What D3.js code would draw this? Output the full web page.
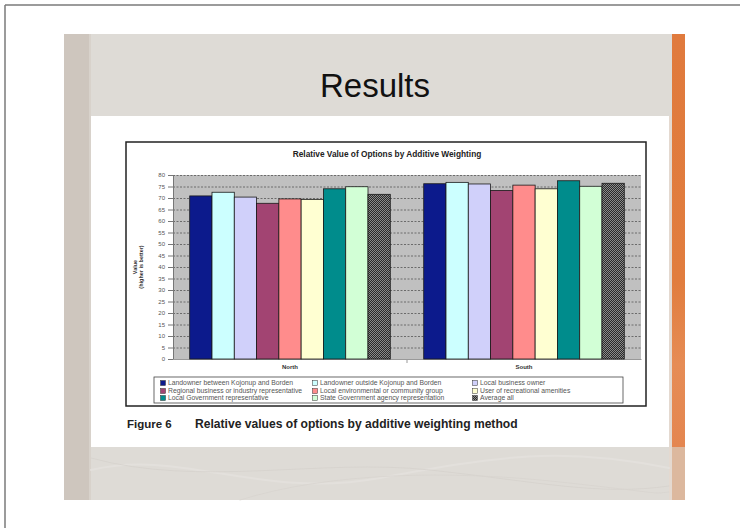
<!DOCTYPE html>
<html>
<head>
<meta charset="utf-8">
<script src="https://cdn.jsdelivr.net/npm/d3@7/dist/d3.min.js"></script>
<style>
  html, body { margin: 0; padding: 0; background: #fff; }
  svg { display: block; font-family: Arial, "Liberation Sans", sans-serif; }
</style>
</head>
<body>
<svg id="slide" width="740" height="528"></svg>
<script>
// ---- data ----
const regions = ["North", "South"];
const groups = [
  "Landowner between Kojonup and Borden",
  "Landowner outside Kojonup and Borden",
  "Local business owner",
  "Regional business or industry representative",
  "Local environmental or community group",
  "User of recreational amenities",
  "Local Government representative",
  "State Government agency representation",
  "Average all"
];
const northValues = [70.9, 72.5, 70.4, 67.7, 69.6, 69.4, 74.0, 74.9, 71.6];
const southValues = [76.2, 76.8, 76.1, 73.3, 75.6, 74.0, 77.5, 75.1, 76.4];
const yTicks = d3.range(0, 81, 5);
const fills = ["#0c1a8c", "#ccffff", "#d0d0fa", "#a24472", "#ff8c8c", "#ffffd2", "#008c8c", "#d2ffd6", "url(#checker)"];

const svg = d3.select("#slide");
const defs = svg.append("defs");

// fine dark checker used by the "Average all" series
const pat = defs.append("pattern").attr("id", "checker").attr("patternUnits", "userSpaceOnUse")
  .attr("width", 2).attr("height", 2);
pat.append("rect").attr("width", 2).attr("height", 2).attr("fill", "#8a8a8a");
pat.append("rect").attr("width", 1).attr("height", 1).attr("fill", "#2a2a2a");
pat.append("rect").attr("x", 1).attr("y", 1).attr("width", 1).attr("height", 1).attr("fill", "#2a2a2a");

const orangeGrad = defs.append("linearGradient").attr("id", "orangeStrip").attr("x1", 0).attr("x2", 0).attr("y1", 0).attr("y2", 1);
orangeGrad.append("stop").attr("offset", "0%").attr("stop-color", "#e07a3d");
orangeGrad.append("stop").attr("offset", "60%").attr("stop-color", "#e17d3e");
orangeGrad.append("stop").attr("offset", "80%").attr("stop-color", "#e68c55");
orangeGrad.append("stop").attr("offset", "100%").attr("stop-color", "#e48650");

// ---- page frame and slide background ----
svg.append("line").attr("x1", 5).attr("x2", 740).attr("y1", 5).attr("y2", 5).attr("stroke", "#7a7a7a").attr("stroke-width", 1.5);
svg.append("line").attr("x1", 5).attr("x2", 5).attr("y1", 5).attr("y2", 528).attr("stroke", "#7a7a7a").attr("stroke-width", 1.5);

svg.append("rect").attr("x", 64).attr("y", 34).attr("width", 621).attr("height", 466).attr("fill", "#dedbd6");
svg.append("rect").attr("x", 64).attr("y", 34).attr("width", 26).attr("height", 466).attr("fill", "#cec6be");
svg.append("rect").attr("x", 89).attr("y", 34).attr("width", 2).attr("height", 466).attr("fill", "#d8d2cb");
svg.append("rect").attr("x", 672).attr("y", 34).attr("width", 13).attr("height", 413).attr("fill", "url(#orangeStrip)");
svg.append("rect").attr("x", 672).attr("y", 447).attr("width", 13).attr("height", 53).attr("fill", "#dcb89e");
svg.append("rect").attr("x", 669).attr("y", 116).attr("width", 3).attr("height", 384).attr("fill", "#e4d9d0");

// soft swooshes in the footer band
const footer = svg.append("g").attr("fill", "none").attr("stroke-linecap", "round");
footer.append("path").attr("d", "M91,470 C180,448 260,500 380,478 S560,446 669,468").attr("stroke", "#e3e0dc").attr("stroke-width", 2);
footer.append("path").attr("d", "M91,458 C200,488 320,458 430,470 S600,496 669,486").attr("stroke", "#d6d2cd").attr("stroke-width", 0.8);
footer.append("path").attr("d", "M240,500 C330,472 450,470 560,482 S650,494 669,492").attr("stroke", "#d8d4cf").attr("stroke-width", 0.8);

svg.append("text").attr("x", 375).attr("y", 97).attr("text-anchor", "middle")
  .attr("font-size", 33).attr("fill", "#111").text("Results");

// white content panel
svg.append("rect").attr("x", 91).attr("y", 116).attr("width", 578).attr("height", 331).attr("fill", "#ffffff");

// ---- chart ----
svg.append("rect").attr("x", 126).attr("y", 142).attr("width", 520).attr("height", 264)
  .attr("fill", "#fff").attr("stroke", "#222").attr("stroke-width", 1.5);

svg.append("text").attr("x", 387).attr("y", 157).attr("text-anchor", "middle")
  .attr("font-size", 8.3).attr("font-weight", "bold").attr("fill", "#222")
  .text("Relative Value of Options by Additive Weighting");

const plot = { left: 173, right: 641, top: 175, bottom: 359 };
const x0 = d3.scaleBand().domain(regions).range([plot.left, plot.right]).paddingInner(0).paddingOuter(0);
const x1 = d3.scaleBand().domain(d3.range(groups.length)).range([0, x0.bandwidth()]).paddingInner(0).paddingOuter(0.75);
const y = d3.scaleLinear().domain([0, 80]).range([plot.bottom, plot.top]);

svg.append("rect").attr("x", plot.left).attr("y", plot.top).attr("width", plot.right - plot.left)
  .attr("height", plot.bottom - plot.top).attr("fill", "#c0c0c0");

// dashed gridlines
svg.append("g").selectAll("line").data(yTicks.filter(d => d > 0)).join("line")
  .attr("x1", plot.left).attr("x2", plot.right)
  .attr("y1", d => y(d) + 0.5).attr("y2", d => y(d) + 0.5)
  .attr("stroke", "#555").attr("stroke-width", 0.8).attr("stroke-dasharray", "2,1.5");

// y axis
const yAxis = svg.append("g").attr("transform", `translate(${plot.left},0)`)
  .call(d3.axisLeft(y).tickValues(yTicks).tickSize(5).tickPadding(3));
yAxis.select(".domain").attr("stroke", "#777");
yAxis.selectAll(".tick line").attr("stroke", "#777");
yAxis.selectAll("text").attr("font-size", 6).attr("fill", "#555").attr("font-family", "Arial, sans-serif");

// x axis
const xAxis = svg.append("g").attr("transform", `translate(0,${plot.bottom})`)
  .call(d3.axisBottom(x0).tickSize(0).tickPadding(6));
xAxis.select(".domain").attr("stroke", "#999");
xAxis.selectAll("text").attr("font-size", 6).attr("font-weight", "bold").attr("fill", "#333").attr("font-family", "Arial, sans-serif");
svg.append("g").selectAll("line").data(regions.slice(1)).join("line")
  .attr("x1", d => x0(d)).attr("x2", d => x0(d)).attr("y1", plot.bottom).attr("y2", plot.bottom + 4)
  .attr("stroke", "#999");

// y axis title
const yTitle = svg.append("text").attr("transform", `translate(137,${(plot.top + plot.bottom) / 2}) rotate(-90)`)
  .attr("text-anchor", "middle").attr("font-size", 5.5).attr("font-weight", "bold").attr("fill", "#333");
yTitle.append("tspan").attr("x", 0).attr("dy", 0).text("Value");
yTitle.append("tspan").attr("x", 0).attr("dy", 6).text("(higher is better)");

// bars
const seriesByRegion = { North: northValues, South: southValues };
const barGroups = svg.append("g").selectAll("g").data(regions).join("g")
  .attr("transform", d => `translate(${x0(d)},0)`);
barGroups.selectAll("rect").data(r => seriesByRegion[r].map((v, i) => ({ v, i }))).join("rect")
  .attr("x", d => x1(d.i))
  .attr("y", d => y(d.v))
  .attr("width", x1.bandwidth())
  .attr("height", d => y(0) - y(d.v))
  .attr("fill", d => fills[d.i])
  .attr("stroke", "#1a1a1a").attr("stroke-width", 0.8);

// legend
svg.append("rect").attr("x", 154).attr("y", 377).attr("width", 469).attr("height", 26)
  .attr("fill", "#fff").attr("stroke", "#444").attr("stroke-width", 0.8);
const legendCols = [163, 315, 475];
const legendRows = [383, 391, 398];
const legend = svg.append("g").selectAll("g").data(groups).join("g")
  .attr("transform", (d, i) => `translate(${legendCols[i % 3]},${legendRows[Math.floor(i / 3)]})`);
legend.append("rect").attr("x", -2.5).attr("y", -2.5).attr("width", 5).attr("height", 5)
  .attr("fill", (d, i) => fills[i]).attr("stroke", "#333").attr("stroke-width", 0.5);
legend.append("text").attr("x", 5).attr("y", 2.2).attr("font-size", 6.8).attr("fill", "#555").text(d => d);

// caption
svg.append("text").attr("x", 127).attr("y", 428).attr("font-size", 11.5).attr("font-weight", "bold").attr("fill", "#222").text("Figure 6");
svg.append("text").attr("x", 195).attr("y", 428).attr("font-size", 12.1).attr("font-weight", "bold").attr("fill", "#222")
  .text("Relative values of options by additive weighting method");
</script>
</body>
</html>
